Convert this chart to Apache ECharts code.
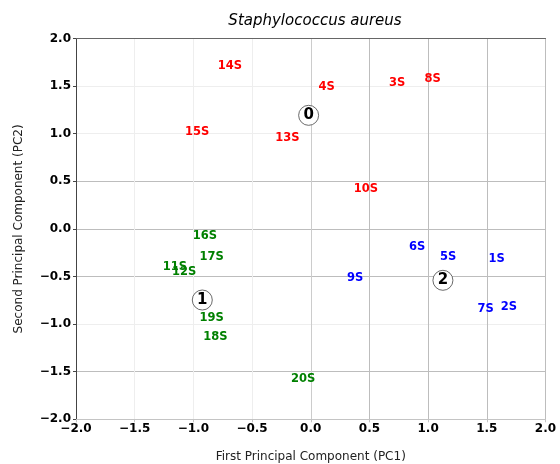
<!DOCTYPE html>
<html>
<head>
<meta charset="utf-8">
<script src="https://cdn.jsdelivr.net/npm/echarts@6/dist/echarts.min.js"></script>
<style>html,body{margin:0;padding:0;background:#fff}#c{width:560px;height:464px}</style>
</head>
<body>
<div id="c"></div>
<script>
// Cluster 0 (red)
const redNames = ['14S','4S','3S','8S','15S','13S','10S'];
const redX = [-0.688, 0.135, 0.737, 1.038, -0.967, -0.200, 0.470];
const redY = [1.711, 1.487, 1.536, 1.571, 1.018, 0.958, 0.422];
// Cluster 1 (green)
const greenNames = ['16S','17S','11S','12S','19S','18S','20S'];
const greenX = [-0.901, -0.844, -1.157, -1.078, -0.844, -0.813, -0.064];
const greenY = [-0.075, -0.295, -0.397, -0.456, -0.939, -1.136, -1.580];
// Cluster 2 (blue)
const blueNames = ['6S','5S','1S','9S','7S','2S'];
const blueX = [0.907, 1.171, 1.583, 0.379, 1.490, 1.688];
const blueY = [-0.193, -0.292, -0.316, -0.513, -0.838, -0.817];
// Cluster centres
const centerNames = ['0','1','2'];
const centerX = [-0.018, -0.924, 1.126];
const centerY = [1.193, -0.747, -0.540];

const axisTicks = [-2.0, -1.5, -1.0, -0.5, 0.0, 0.5, 1.0, 1.5, 2.0];

function pts(xs, ys, names){ return xs.map((x,i)=>[x, ys[i], names[i]]); }
const fmt = v => (v < 0 ? '\u2212' : '') + Math.abs(v).toFixed(1);

function labelSeries(xs, ys, names, color){
  return {
    type:'scatter', data: pts(xs, ys, names), symbolSize: 1,
    itemStyle:{color:'rgba(0,0,0,0)', opacity:1},
    label:{show:true, position:'inside', formatter: p => p.data[2], color: color,
      textBorderWidth:0, textBorderColor:'transparent', opacity:1,
      fontFamily:'DejaVu Sans', fontWeight:'bold', fontSize:11.5},
    emphasis:{disabled:true},
    z: 5
  };
}

const light = '#eeeeee', mid = '#cccccc', dark = '#bdbdbd';
const chart = echarts.init(document.getElementById('c'), null, {renderer:'canvas'});
chart.setOption({
  animation:false,
  title:{text:'Staphylococcus aureus', left:310, top:9, textAlign:'center',
    textStyle:{fontFamily:'DejaVu Sans', fontStyle:'italic', fontWeight:'normal', fontSize:15, color:'#000'}},
  grid:{left:76, right:14.5, top:38.5, bottom:44.7, outerBoundsMode:'none', containLabel:false},
  xAxis:[{
    type:'value', min:-2, max:2, interval:0.5,
    name:'First Principal Component (PC1)', nameLocation:'middle', nameGap:32,
    nameTextStyle:{fontFamily:'DejaVu Sans', fontSize:12, color:'#222'},
    axisLine:{show:true, onZero:false, lineStyle:{color:'#c4c4c4', width:1}},
    axisTick:{show:true, length:3, lineStyle:{color:'#c4c4c4'}},
    axisLabel:{formatter:fmt, fontFamily:'DejaVu Sans', fontWeight:'bold', fontSize:12, color:'#000', margin:4},
    splitLine:{show:true, lineStyle:{color:[light, light, light, light, mid, dark, dark, dark, dark], width:1}}
  },{
    type:'value', min:-2, max:2, interval:0.5, position:'top',
    axisLine:{show:true, onZero:false, lineStyle:{color:'#666', width:1}},
    axisTick:{show:false}, axisLabel:{show:false}, splitLine:{show:false}
  }],
  yAxis:[{
    type:'value', min:-2, max:2, interval:0.5,
    name:'Second Principal Component (PC2)', nameLocation:'middle', nameGap:51,
    nameTextStyle:{fontFamily:'DejaVu Sans', fontSize:12, color:'#222'},
    axisLine:{show:true, onZero:false, lineStyle:{color:'#444', width:1}},
    axisTick:{show:true, length:3, lineStyle:{color:'#444'}},
    axisLabel:{formatter:fmt, fontFamily:'DejaVu Sans', fontWeight:'bold', fontSize:12, color:'#000', margin:5},
    splitLine:{show:true, lineStyle:{color:[dark, dark, light, dark, dark, dark, light, light, dark], width:1}}
  },{
    type:'value', min:-2, max:2, interval:0.5, position:'right',
    axisLine:{show:true, onZero:false, lineStyle:{color:'#bdbdbd', width:1}},
    axisTick:{show:false}, axisLabel:{show:false}, splitLine:{show:false}
  }],
  series:[
    labelSeries(redX, redY, redNames, '#ff0000'),
    labelSeries(greenX, greenY, greenNames, '#008000'),
    labelSeries(blueX, blueY, blueNames, '#0000ff'),
    {
      type:'scatter', data: pts(centerX, centerY, centerNames), symbol:'circle', symbolSize:20,
      itemStyle:{color:'#fff', borderColor:'#444', borderWidth:0.8, opacity:1},
      label:{show:true, position:'inside', formatter: p => p.data[2], color:'#000',
        textBorderWidth:0, textBorderColor:'transparent',
        fontFamily:'DejaVu Sans', fontWeight:'bold', fontSize:15},
      emphasis:{disabled:true},
      z: 6
    }
  ]
});
</script>
</body>
</html>
